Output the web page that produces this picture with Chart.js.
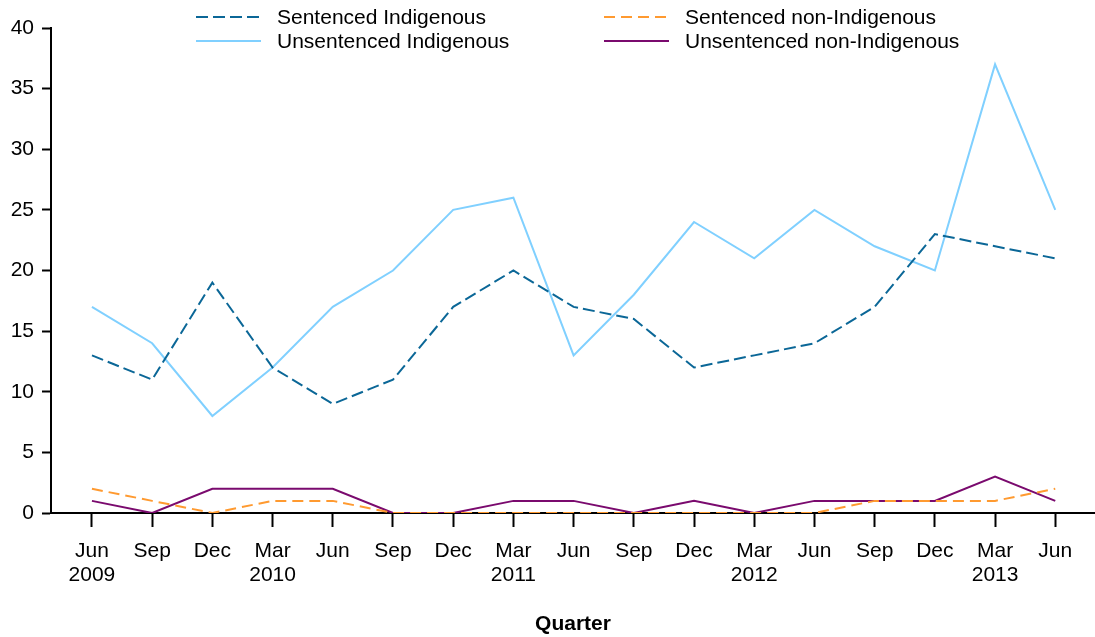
<!DOCTYPE html>
<html>
<head>
<meta charset="utf-8">
<script src="https://cdn.jsdelivr.net/npm/chart.js@4"></script>
<style>
  html, body { margin: 0; padding: 0; background: #fff; }
  #wrap { width: 1095px; height: 637px; position: relative; }
</style>
</head>
<body>
<div id="wrap"><canvas id="chart"></canvas></div>
<script>
// quarters, Jun 2009 - Jun 2013
var quarters = ['Jun', 'Sep', 'Dec', 'Mar', 'Jun', 'Sep', 'Dec', 'Mar', 'Jun', 'Sep', 'Dec', 'Mar', 'Jun', 'Sep', 'Dec', 'Mar', 'Jun'];
var years = ['2009', '', '', '2010', '', '', '', '2011', '', '', '', '2012', '', '', '', '2013', ''];

var sentencedIndigenous = [13, 11, 19, 12, 9, 11, 17, 20, 17, 16, 12, 13, 14, 17, 23, 22, 21];
var unsentencedIndigenous = [17, 14, 8, 12, 17, 20, 25, 26, 13, 18, 24, 21, 25, 22, 20, 37, 25];
var sentencedNonIndigenous = [2, 1, 0, 1, 1, 0, 0, 0, 0, 0, 0, 0, 0, 1, 1, 1, 2];
var unsentencedNonIndigenous = [1, 0, 2, 2, 2, 0, 0, 1, 1, 0, 1, 0, 1, 1, 1, 3, 1];

var yTicks = [0, 5, 10, 15, 20, 25, 30, 35, 40];

function pts(arr) {
    return arr.map(function (v, i) { return { x: i, y: v }; });
}

var FONT = 'Liberation Sans, Arial, sans-serif';

// legend drawn over the top of the plot, like the original
var legendPlugin = {
    id: 'topLegend',
    afterDraw: function (chart) {
        var ctx = chart.ctx;
        var items = [
            { ds: 0, x: 196, y: 17 },
            { ds: 1, x: 196, y: 41 },
            { ds: 2, x: 604, y: 17 },
            { ds: 3, x: 604, y: 41 }
        ];
        ctx.save();
        items.forEach(function (it) {
            var d = chart.data.datasets[it.ds];
            ctx.beginPath();
            ctx.strokeStyle = d.borderColor;
            ctx.lineWidth = 2;
            ctx.setLineDash(d.borderDash || []);
            ctx.moveTo(it.x, it.y);
            ctx.lineTo(it.x + 65, it.y);
            ctx.stroke();
            ctx.setLineDash([]);
            ctx.fillStyle = '#000';
            ctx.font = '21px ' + FONT;
            ctx.textBaseline = 'middle';
            ctx.textAlign = 'left';
            ctx.fillText(d.label, it.x + 81, it.y + 1);
        });
        ctx.restore();
    }
};

var ctx = document.getElementById('chart').getContext('2d');
var chart = new Chart(ctx, {
    type: 'line',
    data: {
        datasets: [{
            label: 'Sentenced Indigenous',
            data: pts(sentencedIndigenous),
            borderColor: '#0b6797',
            borderWidth: 2,
            borderDash: [12, 5],
            pointRadius: 0,
            tension: 0,
            order: 2
        },
        {
            label: 'Unsentenced Indigenous',
            data: pts(unsentencedIndigenous),
            borderColor: '#80d0ff',
            borderWidth: 2,
            pointRadius: 0,
            tension: 0,
            order: 3
        },
        {
            label: 'Sentenced non-Indigenous',
            data: pts(sentencedNonIndigenous),
            borderColor: '#ff9a30',
            borderWidth: 2,
            borderDash: [11, 6],
            pointRadius: 0,
            tension: 0,
            order: 0
        },
        {
            label: 'Unsentenced non-Indigenous',
            data: pts(unsentencedNonIndigenous),
            borderColor: '#7a0a6e',
            borderWidth: 2,
            pointRadius: 0,
            tension: 0,
            order: 1
        }]
    },
    options: {
        responsive: true,
        maintainAspectRatio: false,
        animation: false,
        layout: { padding: { top: 28, right: 0, left: 0, bottom: 0 } },
        plugins: {
            legend: { display: false },
            tooltip: { enabled: false }
        },
        scales: {
            x: {
                type: 'linear',
                min: -0.68,
                max: 16.66,
                afterBuildTicks: function (s) {
                    s.ticks = quarters.map(function (q, i) { return { value: i }; });
                },
                afterFit: function (s) { s.height = 124; },
                border: { color: '#000', width: 2 },
                grid: { drawOnChartArea: false, tickLength: 14, tickColor: '#000', tickWidth: 2 },
                ticks: {
                    color: '#000',
                    font: { family: FONT, size: 21, lineHeight: 1.15 },
                    padding: 12,
                    maxRotation: 0,
                    autoSkip: false,
                    callback: function (v) {
                        return years[v] ? [quarters[v], years[v]] : quarters[v];
                    }
                },
                title: {
                    display: true,
                    text: 'Quarter',
                    color: '#000',
                    font: { family: FONT, size: 21, weight: 'bold' },
                    padding: { top: 0, bottom: 0 }
                }
            },
            y: {
                min: 0,
                max: 40,
                afterBuildTicks: function (s) {
                    s.ticks = yTicks.map(function (v) { return { value: v }; });
                },
                afterFit: function (s) { s.width = 51; },
                border: { color: '#000', width: 2 },
                grid: { drawOnChartArea: false, tickLength: 9, tickColor: '#000', tickWidth: 2 },
                ticks: {
                    color: '#000',
                    font: { family: FONT, size: 21 },
                    padding: 8
                }
            }
        }
    },
    plugins: [legendPlugin]
});
</script>
</body>
</html>
